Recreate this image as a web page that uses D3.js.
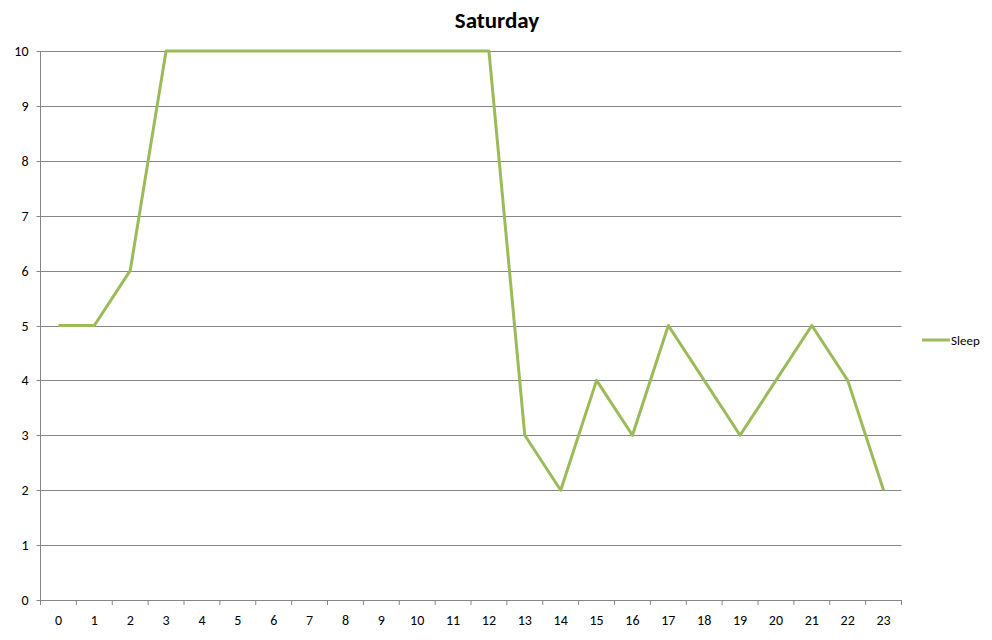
<!DOCTYPE html>
<html>
<head>
<meta charset="utf-8">
<script src="https://cdn.jsdelivr.net/npm/d3@7"></script>
<style>
  html, body { margin: 0; padding: 0; background: #fff; overflow: hidden; }
  #chartSVG { display: block; }
  svg text { font-family: Calibri, Carlito, "Open Sans", "Liberation Sans", sans-serif; fill: #000; }
</style>
</head>
<body>
<svg id="chartSVG"></svg>
<script>
var hours = ['0', '1', '2', '3', '4', '5', '6', '7', '8', '9', '10', '11', '12', '13', '14', '15', '16', '17', '18', '19', '20', '21', '22', '23']
var sleepValues = [5, 5, 6, 10, 10, 10, 10, 10, 10, 10, 10, 10, 10, 3, 2, 4, 3, 5, 4, 3, 4, 5, 4, 2]
var yTicks = [0, 1, 2, 3, 4, 5, 6, 7, 8, 9, 10]
var seriesName = 'Sleep'
var chartTitle = 'Saturday'

var width = 992
var height = 640
var plotLeft = 40.5, plotRight = 901.5, plotTop = 51, plotBottom = 600
var lineColor = '#9bbb59'
var gridColor = '#868686'

var svg = d3.select('#chartSVG')
    .attr('width', width)
    .attr('height', height)

svg.append('text')
    .attr('x', 497)
    .attr('y', 28)
    .attr('text-anchor', 'middle')
    .style('font-size', '23px')
    .style('font-weight', 'bold')
    .text(chartTitle)

var xScale = d3.scaleBand().domain(hours).range([plotLeft, plotRight])
var yScale = d3.scaleLinear().domain([0, 10]).range([plotBottom, plotTop])

// gridlines
svg.append('g')
    .selectAll('line')
    .data(yTicks.filter(function (d) { return d > 0 }))
    .enter()
    .append('line')
    .attr('x1', plotLeft)
    .attr('x2', plotRight)
    .attr('y1', function (d) { return Math.round(yScale(d)) + 0.5 })
    .attr('y2', function (d) { return Math.round(yScale(d)) + 0.5 })
    .attr('stroke', gridColor)

// y axis
svg.append('line')
    .attr('x1', plotLeft).attr('x2', plotLeft)
    .attr('y1', plotTop).attr('y2', plotBottom)
    .attr('stroke', gridColor)
svg.append('g').selectAll('line')
    .data(yTicks)
    .enter()
    .append('line')
    .attr('x1', plotLeft - 4).attr('x2', plotLeft)
    .attr('y1', function (d) { return Math.round(yScale(d)) + 0.5 })
    .attr('y2', function (d) { return Math.round(yScale(d)) + 0.5 })
    .attr('stroke', gridColor)
svg.append('g').selectAll('text')
    .data(yTicks)
    .enter()
    .append('text')
    .attr('x', plotLeft - 12)
    .attr('y', function (d) { return yScale(d) + 5 })
    .attr('text-anchor', 'end')
    .style('font-size', '14px')
    .text(function (d) { return d })

// x axis with ticks between categories
svg.append('line')
    .attr('x1', plotLeft).attr('x2', plotRight)
    .attr('y1', plotBottom + 0.5).attr('y2', plotBottom + 0.5)
    .attr('stroke', gridColor)
svg.append('g').selectAll('line')
    .data(hours.concat(['end']))
    .enter()
    .append('line')
    .attr('x1', function (d, i) { return plotLeft + i * xScale.step() })
    .attr('x2', function (d, i) { return plotLeft + i * xScale.step() })
    .attr('y1', plotBottom).attr('y2', plotBottom + 5)
    .attr('stroke', gridColor)
svg.append('g').selectAll('text')
    .data(hours)
    .enter()
    .append('text')
    .attr('x', function (d) { return xScale(d) + xScale.bandwidth() / 2 })
    .attr('y', plotBottom + 25)
    .attr('text-anchor', 'middle')
    .style('font-size', '14px')
    .text(function (d) { return d })

// series line
var line = d3.line()
    .x(function (d, i) { return xScale(hours[i]) + xScale.bandwidth() / 2 })
    .y(function (d) { return yScale(d) })
svg.append('path')
    .datum(sleepValues)
    .attr('fill', 'none')
    .attr('stroke', lineColor)
    .attr('stroke-width', 3)
    .attr('stroke-linejoin', 'round')
    .attr('d', line)

// legend
svg.append('line')
    .attr('x1', 922).attr('x2', 950)
    .attr('y1', 340).attr('y2', 340)
    .attr('stroke', lineColor)
    .attr('stroke-width', 3)
svg.append('text')
    .attr('x', 951)
    .attr('y', 345)
    .style('font-size', '13px')
    .text(seriesName)
</script>
</body>
</html>
